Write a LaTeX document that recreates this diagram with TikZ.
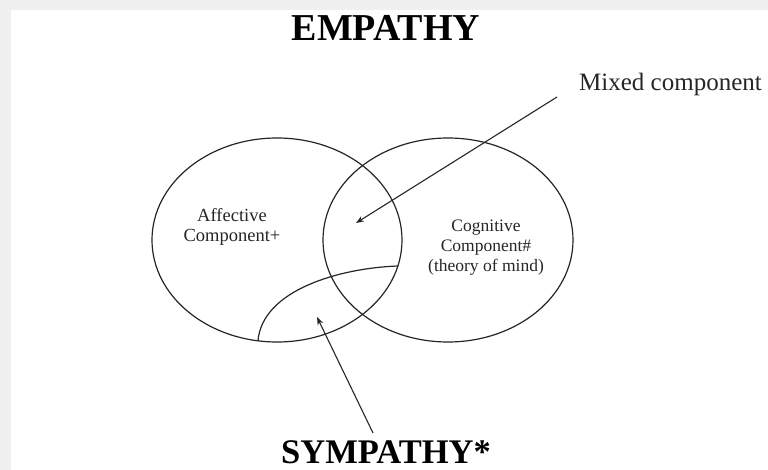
\documentclass[tikz,border=0pt]{standalone}
\usepackage{fontspec}
\setmainfont{Liberation Serif}
\usetikzlibrary{arrows.meta,shapes.geometric}
\begin{document}
\begin{tikzpicture}[x=1pt,y=-1pt,
  ring/.style={draw=black!85,line width=1.2pt,ellipse,minimum width=250pt,minimum height=204pt,inner sep=0pt},
  pointer/.style={draw=black!85,line width=1.1pt,-{Stealth[length=8pt,width=6pt]}},
  title/.style={font=\fontsize{38}{40}\selectfont\bfseries,inner sep=0pt,anchor=base},
  label/.style={font=\fontsize{18.5}{20}\selectfont,align=center,inner sep=0pt,text=black!85}]
\useasboundingbox (0,0) rectangle (768,470);
\fill[black!6] (0,0) rectangle (768,470);
\fill[white] (11,10) rectangle (768,470);
% circles
\node[ring] (aff) at (277,240) {};
\node[ring] (cog) at (448,240) {};
% sympathy arc
\coordinate (s1) at (258,341);
\coordinate (s2) at (398,266);
\draw[draw=black!85,line width=1.2pt] (s1) .. controls (262,290) and (340,268) .. (s2);
% texts
\node[title] (emp) at (386,41) {EMPATHY};
\node[title,font=\fontsize{34.5}{36}\selectfont\bfseries] (sym) at (386,463) {SYMPATHY*};
\node[label,font=\fontsize{25}{28}\selectfont,anchor=west] (mix) at (579,84) {Mixed component};
\node[label] (afft) at (232,227) {Affective\\Component+};
\node[label,font=\fontsize{17.5}{20}\selectfont] (cogt) at (486,248) {Cognitive\\Component\#\\(theory of mind)};
% arrows
\coordinate (m0) at (557,97);
\coordinate (m1) at (356,223);
\draw[pointer] (m0) -- (m1);
\coordinate (p0) at (373,433);
\coordinate (p1) at (317,317);
\draw[pointer] (p0) -- (p1);
\end{tikzpicture}
\end{document}
